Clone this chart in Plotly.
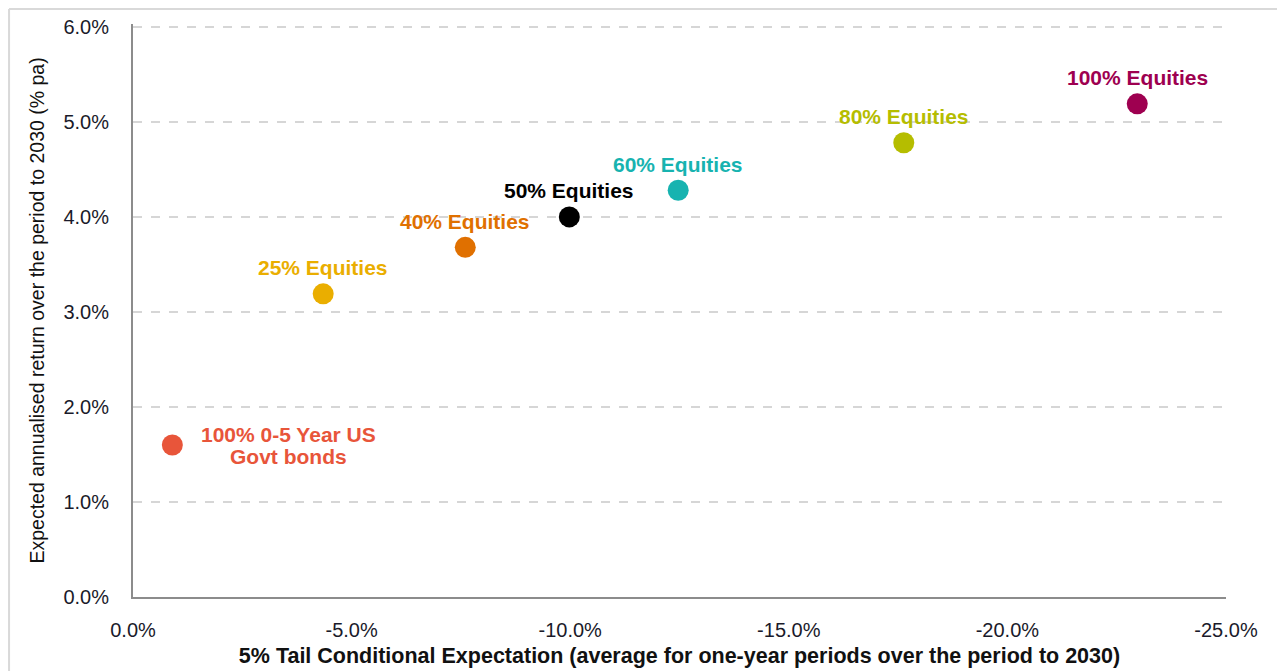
import plotly.graph_objects as go

labels = ["100% 0-5 Year US<br>Govt bonds", "25% Equities", "40% Equities", "50% Equities",
          "60% Equities", "80% Equities", "100% Equities"]
tail_cte = [-0.9, -4.35, -7.6, -9.98, -12.47, -17.63, -22.97]
exp_return = [1.60, 3.19, 3.68, 4.00, 4.28, 4.78, 5.19]
colors = ["#E8553A", "#EAAE00", "#E07000", "#000000", "#17B3B0", "#B5BD00", "#9E0050"]

x_ticks = [0, -5, -10, -15, -20, -25]
x_ticktext = ["0.0%", "-5.0%", "-10.0%", "-15.0%", "-20.0%", "-25.0%"]
y_ticks = [0, 1, 2, 3, 4, 5, 6]
y_ticktext = ["0.0%", "1.0%", "2.0%", "3.0%", "4.0%", "5.0%", "6.0%"]

FONT = "Liberation Sans, Arial"

fig = go.Figure()
fig.add_trace(go.Scatter(
    x=tail_cte, y=exp_return, mode="markers",
    marker=dict(size=21, color=colors, line=dict(width=0)),
    showlegend=False, hoverinfo="skip"))

for i, (lx, ly, lab, c) in enumerate(zip(tail_cte, exp_return, labels, colors)):
    lf = dict(family=FONT, size=21, color=c, weight="bold")
    if "<br>" in lab:
        lines = lab.split("<br>")
        n = len(lines)
        for j, line in enumerate(lines):
            fig.add_annotation(x=lx, y=ly, text=line, showarrow=False, xanchor="center",
                               yanchor="middle", xshift=116, yshift=11 * (n - 1) - 22 * j - 1,
                               font=lf)
    else:
        fig.add_annotation(x=lx, y=ly, text=lab, showarrow=False, xanchor="center",
                           yanchor="middle", yshift=26, font=lf)

tickfont = dict(family=FONT, size=20, color="#1a1a2a")

fig.update_xaxes(range=[0, -25], tickvals=x_ticks, ticktext=x_ticktext,
                 showgrid=False, zeroline=False, showline=True, linecolor="#8c8c8c", linewidth=2,
                 ticks="outside", ticklen=14, tickcolor="rgba(0,0,0,0)", tickfont=tickfont,
                 title=dict(text="<b>5% Tail Conditional Expectation (average for one-year periods over the period to 2030)</b>",
                            font=dict(family=FONT, size=21.5, color="#111111"), standoff=8))
fig.update_yaxes(range=[0, 6.03], tickvals=y_ticks, ticktext=y_ticktext,
                 showgrid=True, gridcolor="#d6d6d6", griddash="dash", gridwidth=1.5,
                 zeroline=False, showline=True, linecolor="#8c8c8c", linewidth=2,
                 ticks="outside", ticklen=18, tickcolor="rgba(0,0,0,0)", tickfont=tickfont)

fig.add_annotation(xref="paper", yref="paper", x=-0.0887, y=0.5, xanchor="center", yanchor="middle",
                   text="Expected annualised return over the period to 2030 (% pa)", textangle=-90,
                   showarrow=False, font=dict(family=FONT, size=19.5, color="#111111"))

fig.add_shape(type="line", xref="paper", yref="paper", x0=-0.1134, x1=-0.1134, y0=-0.2, y1=1.0262,
              line=dict(color="#d9d9d9", width=2))
fig.add_shape(type="line", xref="paper", yref="paper", x0=-0.1134, x1=1.07, y0=1.0262, y1=1.0262,
              line=dict(color="#d9d9d9", width=2))

fig.update_layout(width=1285, height=671, plot_bgcolor="white", paper_bgcolor="white",
                  margin=dict(l=125, r=67, t=16, b=82, autoexpand=False))
fig.write_html("out.html")
